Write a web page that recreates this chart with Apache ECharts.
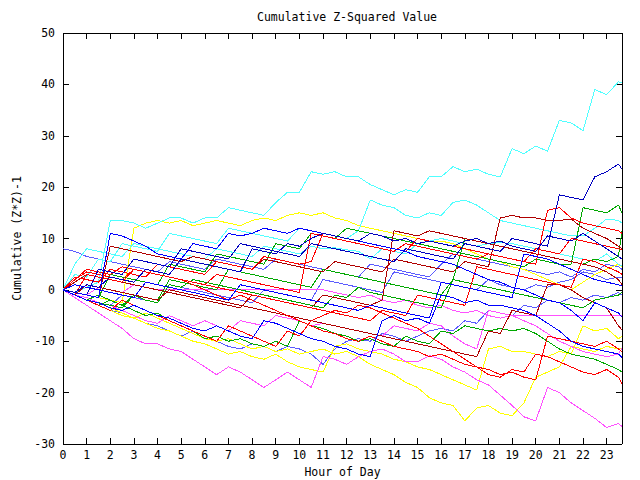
<!DOCTYPE html>
<html>
<head>
<meta charset="utf-8">
<script src="https://cdn.jsdelivr.net/npm/echarts@6/dist/echarts.min.js"></script>
<style>html,body{margin:0;padding:0;background:#fff}#c{width:640px;height:480px}#c svg path{shape-rendering:crispEdges}</style>
</head>
<body>
<div id="c"></div>
<script>
// x positions (hour of day) shared by every series
var hours = [0,0.5,1,1.5,2,2.5,3,3.5,4,4.5,5,5.5,6,6.5,7,7.5,8,8.5,9,9.5,10,10.5,11,11.5,12,12.5,13,13.5,14,14.5,15,15.5,16,16.5,17,17.5,18,18.5,19,19.5,20,20.5,21,21.5,22,22.5,23,23.5,23.65];
var xTickLabels = ['0','1','2','3','4','5','6','7','8','9','10','11','12','13','14','15','16','17','18','19','20','21','22','23'];
var yTickLabels = ['-30','-20','-10','0','10','20','30','40','50'];

var C = {cyan:'#50ffff', red:'#ff0000', dred:'#b00000', green:'#00a800', blue:'#0000ff', dblue:'#0000c0', slate:'#5a5aff', yellow:'#ffff00', magenta:'#ff50ff'};

var cyan1 = [0,-0.5,0.5,1.5,13.5,13.5,13,12,13,14,14,13,14,14,16,15.5,15,14.5,17,19,19,23,22.5,23,22,22,20.5,19.5,18.5,19.5,19,22,22,24,23,23.5,22.5,22,27.5,26.5,28,27,33,32.5,31,39,38,40.5,40.3];
var cyan2 = [0,3,2.5,6,5.5,9,8.5,8,7.5,11,10.5,10,9.5,9,12,11.5,11,10.5,10,9.5,12,11.5,11,10.5,10,11.5,17.5,16.5,16,14.5,14,15,14.5,17,17.5,16.5,15,13.5,13,12.5,12,11.5,11,10.5,10.5,12,13.8,13.5,13];
var cyan3 = [0,5,8,7.5,7,6.5,9,8.5,8,7.5,7,6.5,6,8,7.5,7,6.5,8.5,8,7.5,7,8.5,8,8.2,7.8,7.5,6,8,7.5,7,9,9.5,10,9.5,9,8.5,9,9.2,9,8.5,8,7.5,7,6.5,6,5.5,7,5,4.7];
var blue1 = [0,-0.5,-1,4,3.5,3,6,5.5,5,4.5,8,7.5,7,6.5,6,9,8.5,8,7.5,7,6.5,9,8.5,8,7.5,7,6.5,6,5.5,8,7.5,7,6.5,6,9,8.5,8,7.5,10,9.5,9,8.5,18.5,18,17.5,22,23,24.5,23.5];
var blue2 = [0,-0.5,-1,-1.5,11,10.5,9.5,8.5,7,6.5,6,9,8.5,8,11,10.5,11,12,11.5,11,12,11.5,11,10.5,10,9.5,9,8.5,8,7.5,6.5,6,5.5,5,4,3,2,1.5,0.5,0,-1,-2,-2.5,-4,-6,-2.5,-3.5,-4.5,-5.3];
var blue3 = [0,-1,-2,-2.5,-3.5,-4,-3,-4,-5,-5.5,-6.5,-7.5,-8,-7,-8,-9,-9.5,-6,-6.5,-7.5,-8.5,-9.5,-10,-11,-11.5,-12.5,-13,-6,-5,-6,-5.5,-6.5,-1,-1.5,-2.5,-2,-3,-3,-3.5,-4,-5,-6.5,-8,-10,-11,-11.5,-12,-12.5,-13.2];
var blue4 = [0,-0.5,1,0.5,2.5,2,1.5,4,3.5,3,6,5.5,5,4.5,4,3.5,8,7.5,7,9,8.5,10,11,10.5,10,9.5,11,10.5,9.5,10,9,9.5,9,8.5,9.5,10,9,9.5,8.5,8,7.5,10.5,10,9.5,11,9.5,8,6.5,6];
var blue5 = [0,1,0.5,0,-0.5,-1,-1.5,1.5,1,0.5,0,-0.5,-1,-1.5,-2,1,0.5,0,-0.5,-1,-1.5,-2,-2.5,-3,-3.5,-4,-3,-3.5,-4,-4.5,-5,-5.5,1.5,1,0.5,0,-0.5,-1,-1.5,7,6.5,6,5,4,3,2,1.5,1,0.8];
var green1 = [0,-0.5,-1,-1.5,3,2.5,2,1.5,1,5,4.5,4,3.5,7,6.5,6,5.5,5,9,8.5,8,11,10.5,10,12,11.5,11,10.5,10,9.5,9,8.5,8,7.5,7,6.5,6,5.5,5,4.5,6,5.5,5,5,16,15.5,15,16.5,15];
var green2 = [0,-1,-2,-2.5,-3,-3.5,-1,-1.5,-2,2,1.5,1,0.5,0,4,3.5,3,2.5,2,1.5,1,0.5,4,3.5,3,2.5,2,1.5,1,0.5,0,-0.5,-1,2,10,9.5,9,8.5,8,7.5,7,6.5,6,5.5,5,6,5.5,6.5,11.5];
var green3 = [0,-1,-2,-1,-2,-3,-4,-5,-4.5,-6,-7,-8,-9.5,-9,-10,-9.5,-10.5,-11,-10,-11,-6,-7,-7.5,-8.5,-9,-10,-9.5,-10.5,-11,-9,-10,-10.5,-8,-8.5,-7,-7.5,-8,-7.5,-8,-7.5,-8.5,-10,-11.5,-12.5,-13,-13.5,-14.5,-15.5,-16];
var green4 = [0,-1,-2,-3,-2,-3,-1,-2,-2.5,1,0.5,2,1.5,1,0.5,0,-0.5,-1,-1.5,-2,-2.5,-3,-3.5,-1,-1.5,0.5,-0.5,-1,-1.5,-2,-2.5,-3,-3.5,2,1.5,1,0.5,0,-0.5,-1,-1.5,-2,-2.5,-3,-3.5,-2,-1.5,-1,-0.5];
var red1 = [0,2,3.5,3,2.5,2,4,3.5,3,2.5,2,1.5,1,3,2.5,2,1.5,1,0.5,0,-0.5,11,10.5,10,9.5,9,8.5,8,7.5,9,8.5,8,7.5,7,6.5,6,7,6.5,6,5.5,5,15.5,16,14,13,12.5,12,11.5,11];
var red2 = [0,2.5,2,1.5,4,3.5,3,2.5,5,4.5,4,3.5,3,5.5,5,4.5,4,6.5,6,5.5,5,5.5,11,10.5,10,9.5,9,8.5,8,7.5,10,9.5,9,8.5,8,7.5,7,6.5,6,5.5,8,7.5,7,10,9.5,9,8.5,8,7.8];
var red3 = [0,-1,-2,-3,-4,-2,-3,-4,-5,-6,-7,-8,-9,-10,-7,-8,-9,-10,-11,-8,-9,-6,-5,-4,-4.5,-3,-3.5,-4.5,-5.5,-6.5,-7.5,-9,-10.5,-12,-13.5,-15,-16.5,-17,-15.5,-16,-12.5,-13,-14,-15,-16,-16.5,-15.5,-17,-18.3];
var red4 = [0,2,4,3.5,3,4.5,4,3.5,3,2.5,2,1.5,1,0.5,0,-0.5,-1,-1.5,-2,-2.5,-3,-3.5,-4,-4.5,-5,-5.5,-6,-4,-4.5,-5,-1,-1.5,-2,-2.5,-3,4.5,4,3.5,3,2.5,2,1.5,1,0.5,6,5.5,4.5,3.5,3];
var red5 = [0,-1,3,2.5,2,1.5,4,3.5,3,2.5,2,1,0,-1,-2,-1,-2,-3,-4,-5,-6,-7,-8,-8.5,-9.5,-10,-9,-10,-11,-11.5,-12,-13,-12.5,-13.5,-14.5,-15,-15.5,-16.5,-16,-17,-17.5,-9,-9.5,-10,-10.5,-11,-10,-11.5,-12];
var dred1 = [0,-0.5,-1,-1.5,8.5,8,7.5,7,6.5,6,5.5,6.5,6,5.5,5,4.5,4,6,5.5,5,4.5,4,3.5,5.5,5,4.5,4,3.5,6,5.5,5,4.5,4,3.5,5.5,5,4.5,14,14.5,14,14,13.5,13.5,13.8,12,11,10,8.5,8];
var dred2 = [0,1.5,3,2.5,2,1.5,1,0.5,0,-0.5,-1,-1.5,-2,-2.5,-3,-3.5,-1,-1.5,-2,-2.5,-3,-3.5,-1,-1.5,-2,-2.5,-3,-2,11.5,11,10.5,11.5,11,10.5,10,9.5,9,8.5,8,7.5,7,6.5,6,5.5,5,4.5,3.5,2,1];
var dred3 = [0,-1,1,0.5,0,-0.5,-1,-1.5,-2,0,-0.5,-1,-1.5,-2,-2.5,-3,-3.5,-4,-4.5,-5,-5.5,-6,-6.5,-7,-7.5,-8,-8.5,-9,-9.5,-10,-10.5,-11,-11.5,-12,-12.5,-13,-8,-8.5,-4,-4.5,-5,1,1,0,-1.5,-2.5,-3.5,-7,-7.8];
var slate1 = [8,7.5,6.5,6,5.5,5,4.5,4,3.5,5.5,5,4.5,4,6,5.5,5,4.5,4,6,5.5,5,4.5,4,3.5,3,2.5,5,4.5,4,3.5,3,2.5,5,7,6.5,6,5.5,5,4.5,4,3.5,3,3.5,2.5,4,3.5,5,4.5,4];
var slate2 = [0,-1,-2,-2.5,-3,-1,-1.5,-2,-2.5,1,0.5,0,-0.5,-1,-1.5,-2,-2.5,0,-0.5,-1,-1.5,-2,2,1.5,1,0.5,0,-0.5,3.5,3,2.5,2,1.5,1,0.5,0,2,1,0.5,0,1,0.5,1.5,2,3.5,3,2,2.5,2.3];
var slate3 = [0,-1,-2,-3,-4,-4.5,-5.5,-6.5,-7,-8,-9,-8,-9,-10,-11,-11.5,-10.5,-11,-12,-11,-11.5,-12.5,-14.5,-11.5,-10,-9.5,-10,-8.5,-9,-10,-9,-8,-7.5,-8,-6,-6.5,-4,-4.5,-5,-3,-3.5,-2,-2.5,-1.5,-2,-1,-1.5,-0.5,-1];
var yellow1 = [0,-1,-2,-3,-4,-5,-5.5,-4.5,-5.5,-6.5,-7.5,-8.5,-9.5,-10,-9.5,-10.5,-11.5,-11,-12,-11.5,-12.5,-12,-11.5,-12.5,-12,-13,-14.5,-15.5,-16.5,-18,-19,-21,-22,-22.5,-25.5,-23,-22.5,-24,-24.5,-22,-17,-16,-15,-11,-11.5,-12,-11,-11.5,-11.5];
var yellow2 = [0,-1,-2,-2.5,-3.5,-4.5,-5.5,-6.5,-7.5,-8,-9,-10,-10.5,-11.5,-12.5,-12,-13,-13.5,-12.5,-14,-15,-15.5,-16,-11,-10.5,-11.5,-12,-12.5,-13.5,-14,-15,-15.5,-16.5,-17.5,-18.5,-19.5,-11.5,-11,-12,-12,-12.5,-13,-12,-12.5,-7,-8,-7.5,-9.5,-9];
var yellow3 = [0,-0.5,-1,-1.5,-2,-2.5,12,13,13.5,13,13.5,12.5,13,13.5,13,12.5,13.5,14,13.5,14.5,15,14.5,15,14,13.5,12.5,12,11.5,11,10.5,10,9.5,9.5,9,8,7,6,5.5,4.5,4,3,2,1,0,1.5,3,4,5,4.5];
var magenta1 = [0,-1.5,-3,-4.5,-6,-7.5,-9.5,-10.5,-10.5,-11.5,-12,-13.5,-15,-16.5,-15,-16,-17.5,-19,-17.5,-16,-17.5,-19,-13,-13.5,-14.5,-13,-12,-11.5,-12.5,-14,-14,-12.8,-13.5,-15,-16,-17.5,-18.5,-20.5,-22.5,-24.7,-25.5,-19,-20,-22,-23.5,-25,-26.8,-26,-26.6];
var magenta2 = [0,-0.5,-1,0.5,0,-0.5,1,0.5,0,0,0,0,0,0,0,0,0,0,0,0,0,0,0,-0.5,-1,-1.5,-1,-2,-2.5,-2,-3,-3.5,-3,-4,-4.5,-4,-5,-5.5,-5,-5,-5,-5,-5,-5,-5,-5,-5,-5,-5];
var magenta3 = [0,-1,-1.5,-2.5,-3,-4,-5,-6,-6.5,-5,-6,-7,-6,-7,-8,-6,-6.5,-7,-5,-5.5,-6,-7,-6.5,-7,-7.5,-8,-8.5,-9,-7,-7.5,-8,-6.5,-7,-9,-10.5,-11.5,-4,-4.5,-5,-6,-7,-8.5,-10,-11,-12,-12.5,-13,-12.5,-11.3];

var seriesList = [
  [slate1, C.slate],[slate2, C.slate],[slate3, C.slate],
  [yellow1, C.yellow],[yellow2, C.yellow],[yellow3, C.yellow],
  [magenta1, C.magenta],[magenta2, C.magenta],[magenta3, C.magenta],
  [cyan1, C.cyan],[cyan2, C.cyan],[cyan3, C.cyan],
  [green1, C.green],[green2, C.green],[green3, C.green],[green4, C.green],
  [dred1, C.dred],[dred2, C.dred],[dred3, C.dred],
  [red1, C.red],[red2, C.red],[red3, C.red],[red4, C.red],[red5, C.red],
  [blue1, C.dblue],[blue2, C.blue],[blue3, C.blue],[blue4, C.dblue],[blue5, C.blue]
];

var FONT = 'DejaVu Sans Mono';
var chart = echarts.init(document.getElementById('c'), null, {renderer:'svg'});
var series = seriesList.map(function(s){
  return {
    type:'line', showSymbol:false, symbol:'none', animation:false,
    lineStyle:{color:s[1], width:1}, itemStyle:{color:s[1]},
    data: hours.map(function(h,i){ return [h, s[0][i]]; })
  };
});
var xLab = function(v){ var i = Math.round(v); return (Math.abs(v-i)<1e-6 && xTickLabels[i]!==undefined) ? xTickLabels[i] : ''; };
var yLab = function(v){ var i = Math.round((v+30)/10); return yTickLabels[i]!==undefined ? yTickLabels[i] : ''; };
var axisTextStyle = {color:'#000', fontFamily:FONT, fontSize:11.5};
chart.setOption({
  animation:false,
  backgroundColor:'#fff',
  title:{text:'Cumulative Z-Squared Value', left:342, top:6, textAlign:'center',
    textStyle:{color:'#000', fontFamily:FONT, fontSize:11.5, fontWeight:'normal'}},
  grid:{left:63, right:18, top:33, bottom:36, containLabel:false, outerBoundsMode:'none'},
  xAxis:[
    {type:'value', min:0, max:23.65, interval:1, position:'bottom',
     name:'Hour of Day', nameLocation:'middle', nameGap:22, nameTextStyle:axisTextStyle,
     axisLine:{show:true, onZero:false, lineStyle:{color:'#000', width:1}},
     axisTick:{show:true, inside:true, length:6, lineStyle:{color:'#000'}},
     axisLabel:{show:true, margin:5, formatter:xLab, color:'#000', fontFamily:FONT, fontSize:11.5, showMaxLabel:false},
     splitLine:{show:false}},
    {type:'value', min:0, max:23.65, interval:1, position:'top',
     axisLine:{show:true, onZero:false, lineStyle:{color:'#000', width:1}},
     axisTick:{show:true, inside:true, length:6, lineStyle:{color:'#000'}},
     axisLabel:{show:false}, splitLine:{show:false}}
  ],
  yAxis:[
    {type:'value', min:-30, max:50, interval:10, position:'left',
     name:'Cumulative (Z*Z)-1', nameLocation:'middle', nameGap:38, nameRotate:90, nameTextStyle:axisTextStyle,
     axisLine:{show:true, onZero:false, lineStyle:{color:'#000', width:1}},
     axisTick:{show:true, inside:true, length:6, lineStyle:{color:'#000'}},
     axisLabel:{show:true, margin:8, formatter:yLab, color:'#000', fontFamily:FONT, fontSize:11.5},
     splitLine:{show:false}},
    {type:'value', min:-30, max:50, interval:10, position:'right',
     axisLine:{show:true, onZero:false, lineStyle:{color:'#000', width:1}},
     axisTick:{show:true, inside:true, length:6, lineStyle:{color:'#000'}},
     axisLabel:{show:false}, splitLine:{show:false}}
  ],
  series: series
});
</script>
</body>
</html>
